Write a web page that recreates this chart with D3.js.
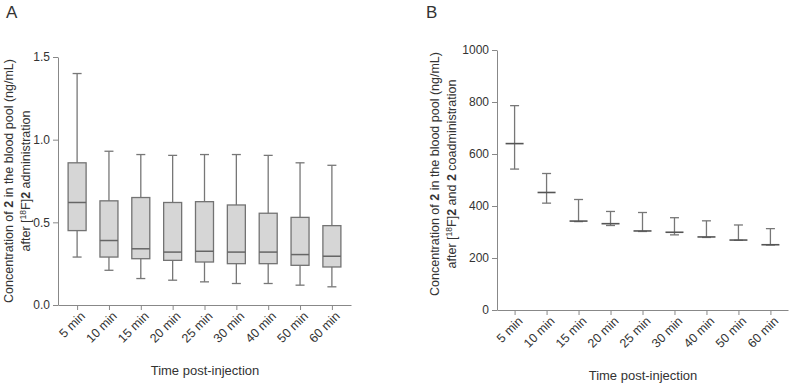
<!DOCTYPE html>
<html>
<head>
<meta charset="utf-8">
<style>
  body { margin: 0; background: #fff; }
  text { font-family: "Liberation Sans", Arial, sans-serif; fill: #333; }
  .axis path, .axis line { stroke: #888; }
  .axis text { font-size: 12px; fill: #333; }
  .axis.x text { font-size: 12.5px; }
</style>
<title>Concentration of 2 in the blood pool</title>
</head>
<body>
<script src="https://cdn.jsdelivr.net/npm/d3@7"></script>
<script>
  // time points (shared by both panels)
  var times = ["5 min", "10 min", "15 min", "20 min", "25 min", "30 min", "40 min", "50 min", "60 min"];

  // panel A: box plot, ng/mL
  var aMin    = [0.29, 0.21, 0.16, 0.15, 0.14, 0.13, 0.13, 0.12, 0.11];
  var aQ1     = [0.45, 0.29, 0.28, 0.27, 0.26, 0.25, 0.25, 0.24, 0.23];
  var aMedian = [0.62, 0.39, 0.34, 0.32, 0.325, 0.32, 0.32, 0.305, 0.295];
  var aQ3     = [0.86, 0.63, 0.65, 0.62, 0.625, 0.605, 0.555, 0.53, 0.48];
  var aMax    = [1.40, 0.93, 0.91, 0.905, 0.91, 0.91, 0.905, 0.86, 0.845];
  var aTicks  = [0, 0.5, 1.0, 1.5];

  // panel B: mean with error bars, ng/mL
  var bMean  = [640, 452, 342, 332, 304, 299, 281, 269, 251];
  var bLow   = [542, 411, 340, 325, 302, 289, 279, 268, 250];
  var bHigh  = [786, 525, 425, 379, 375, 355, 343, 327, 313];
  var bTicks = [0, 200, 400, 600, 800, 1000];

  var svg = d3.select("body").append("svg")
    .attr("width", 792)
    .attr("height", 386);

  // helper: rotated two-line y label with bold "2" and superscript 18
  function yLabel(cx, cy, line2rest) {
    var g = svg.append("g").attr("transform", "translate(" + cx + "," + cy + ") rotate(-90)");
    var t1 = g.append("text").attr("x", 0).attr("y", 0)
      .style("text-anchor", "middle").style("font-size", "12.5px");
    t1.append("tspan").text("Concentration of ");
    t1.append("tspan").style("font-weight", "bold").text("2");
    t1.append("tspan").text(" in the blood pool (ng/mL)");
    var t2 = g.append("text").attr("x", 0).attr("y", 17)
      .style("text-anchor", "middle").style("font-size", "12.5px");
    t2.append("tspan").text("after [");
    t2.append("tspan").attr("dy", -4).style("font-size", "8.5px").text("18");
    t2.append("tspan").attr("dy", 4).text("F]");
    t2.append("tspan").style("font-weight", "bold").text("2");
    line2rest(t2);
  }

  function xAxis(x, yPos) {
    var g = svg.append("g").attr("class", "axis x")
      .attr("transform", "translate(0," + yPos + ")")
      .call(d3.axisBottom(x).tickSize(5).tickSizeOuter(0));
    g.selectAll("text")
      .style("text-anchor", "end")
      .attr("dx", "-0.2em")
      .attr("dy", "0.5em")
      .attr("transform", "rotate(-45)");
    return g;
  }

  // ---------- Panel A ----------
  var xA = d3.scalePoint().domain(times).range([58, 351]).padding(0.6);
  var yA = d3.scaleLinear().domain([0, 1.5]).range([305, 57]);

  svg.append("text").attr("x", 6).attr("y", 18).style("font-size", "17px").text("A");

  svg.append("g").attr("class", "axis")
    .attr("transform", "translate(58,0)")
    .call(d3.axisLeft(yA).tickValues(aTicks).tickFormat(d3.format(".1f")).tickSize(5).tickSizeOuter(0));
  xAxis(xA, 305);

  var boxW = 18, capW = 9;
  var boxes = svg.append("g").attr("id", "boxes").selectAll("g")
    .data(times).enter().append("g");
  boxes.append("line") // whisker
    .attr("x1", function(d) { return xA(d); }).attr("x2", function(d) { return xA(d); })
    .attr("y1", function(d, i) { return yA(aMin[i]); })
    .attr("y2", function(d, i) { return yA(aMax[i]); })
    .attr("stroke", "#777").attr("stroke-width", 1.3);
  boxes.append("line")
    .attr("x1", function(d) { return xA(d) - capW / 2; }).attr("x2", function(d) { return xA(d) + capW / 2; })
    .attr("y1", function(d, i) { return yA(aMax[i]); }).attr("y2", function(d, i) { return yA(aMax[i]); })
    .attr("stroke", "#777").attr("stroke-width", 1.3);
  boxes.append("line")
    .attr("x1", function(d) { return xA(d) - capW / 2; }).attr("x2", function(d) { return xA(d) + capW / 2; })
    .attr("y1", function(d, i) { return yA(aMin[i]); }).attr("y2", function(d, i) { return yA(aMin[i]); })
    .attr("stroke", "#777").attr("stroke-width", 1.3);
  boxes.append("rect")
    .attr("x", function(d) { return xA(d) - boxW / 2; })
    .attr("width", boxW)
    .attr("y", function(d, i) { return yA(aQ3[i]); })
    .attr("height", function(d, i) { return yA(aQ1[i]) - yA(aQ3[i]); })
    .attr("fill", "#d6d6d6").attr("stroke", "#737373").attr("stroke-width", 1.3);
  boxes.append("line")
    .attr("x1", function(d) { return xA(d) - boxW / 2; }).attr("x2", function(d) { return xA(d) + boxW / 2; })
    .attr("y1", function(d, i) { return yA(aMedian[i]); }).attr("y2", function(d, i) { return yA(aMedian[i]); })
    .attr("stroke", "#666").attr("stroke-width", 1.5);

  yLabel(13, 181, function(t) { t.append("tspan").text(" administration"); });

  svg.append("text").attr("x", 205).attr("y", 375)
    .style("text-anchor", "middle").style("font-size", "13px").text("Time post-injection");

  // ---------- Panel B ----------
  var xB = d3.scalePoint().domain(times).range([497, 788]).padding(0.55);
  var yB = d3.scaleLinear().domain([0, 1000]).range([310, 50]);

  svg.append("text").attr("x", 426).attr("y", 18).style("font-size", "17px").text("B");

  svg.append("g").attr("class", "axis")
    .attr("transform", "translate(497,0)")
    .call(d3.axisLeft(yB).tickValues(bTicks).tickFormat(d3.format("d")).tickSize(5).tickSizeOuter(0));
  xAxis(xB, 310);

  var meanW = 18;
  var bars = svg.append("g").attr("id", "errorbars").selectAll("g")
    .data(times).enter().append("g");
  bars.append("line")
    .attr("x1", function(d) { return xB(d); }).attr("x2", function(d) { return xB(d); })
    .attr("y1", function(d, i) { return yB(bLow[i]); })
    .attr("y2", function(d, i) { return yB(bHigh[i]); })
    .attr("stroke", "#777").attr("stroke-width", 1.3);
  bars.append("line")
    .attr("x1", function(d) { return xB(d) - capW / 2; }).attr("x2", function(d) { return xB(d) + capW / 2; })
    .attr("y1", function(d, i) { return yB(bHigh[i]); }).attr("y2", function(d, i) { return yB(bHigh[i]); })
    .attr("stroke", "#777").attr("stroke-width", 1.3);
  bars.append("line")
    .attr("x1", function(d) { return xB(d) - capW / 2; }).attr("x2", function(d) { return xB(d) + capW / 2; })
    .attr("y1", function(d, i) { return yB(bLow[i]); }).attr("y2", function(d, i) { return yB(bLow[i]); })
    .attr("stroke", "#777").attr("stroke-width", 1.3);
  bars.append("line")
    .attr("x1", function(d) { return xB(d) - meanW / 2; }).attr("x2", function(d) { return xB(d) + meanW / 2; })
    .attr("y1", function(d, i) { return yB(bMean[i]); }).attr("y2", function(d, i) { return yB(bMean[i]); })
    .attr("stroke", "#555").attr("stroke-width", 1.6);

  yLabel(439, 174, function(t) {
    t.append("tspan").text(" and ");
    t.append("tspan").style("font-weight", "bold").text("2");
    t.append("tspan").text(" coadministration");
  });

  svg.append("text").attr("x", 643).attr("y", 380)
    .style("text-anchor", "middle").style("font-size", "13px").text("Time post-injection");
</script>
</body>
</html>
